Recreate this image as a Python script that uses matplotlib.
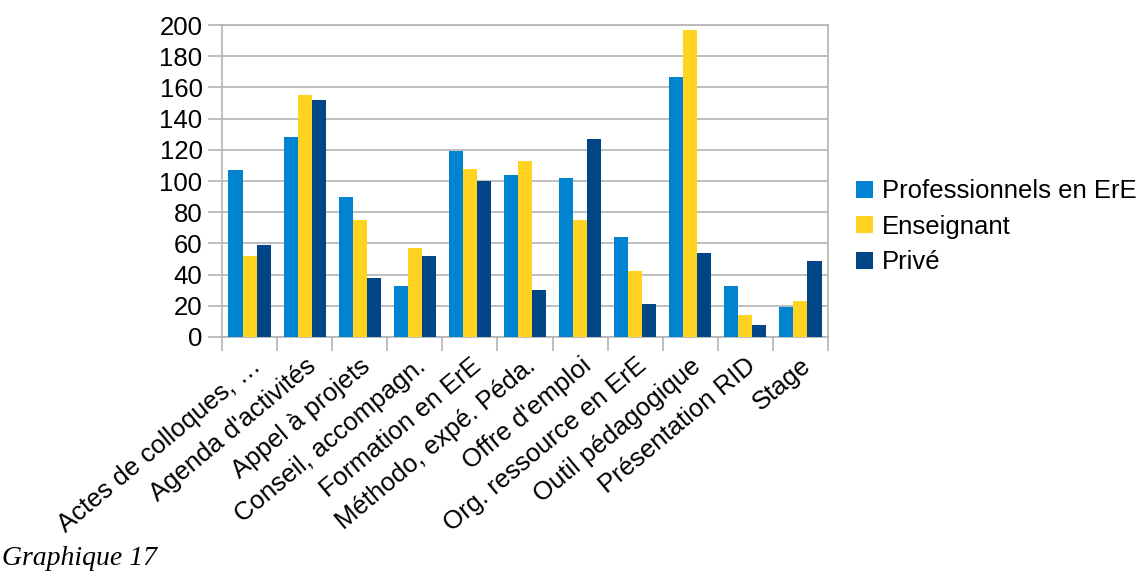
import matplotlib.pyplot as plt
import numpy as np

plt.rcParams['font.family'] = ['Liberation Sans', 'DejaVu Sans']

categories = ["Actes de colloques, …", "Agenda d'activités", "Appel à projets",
              "Conseil, accompagn.", "Formation en ErE", "Méthodo, expé. Péda.",
              "Offre d'emploi", "Org. ressource en ErE", "Outil pédagogique",
              "Présentation RID", "Stage"]
series_names = ["Professionnels en ErE", "Enseignant", "Privé"]
professionnels = [107, 128, 90, 33, 119, 104, 102, 64, 167, 33, 19]
enseignant = [52, 155, 75, 57, 108, 113, 75, 42, 197, 14, 23]
prive = [59, 152, 38, 52, 100, 30, 127, 21, 54, 8, 49]
colors = ['#0084d1', '#ffd320', '#004586']

fig = plt.figure(figsize=(11.46, 5.74), dpi=100)
ax = fig.add_axes([0.1937, 0.4129, 0.5288, 0.5435])

x = np.arange(len(categories)) + 0.5
w = 0.255
for k, (vals, name) in enumerate(zip([professionnels, enseignant, prive], series_names)):
    ax.bar(x + (k - 1) * w, vals, width=w, color=colors[k], label=name, zorder=3)

ax.set_xlim(0, len(categories))
ax.set_ylim(0, 200)
ax.set_yticks(np.arange(0, 201, 20))
ax.set_xticks(np.arange(0, len(categories) + 1), minor=False)
ax.set_xticklabels([])
ax.set_xticks(x, minor=True)
ax.set_xticklabels(categories, minor=True, rotation=40, ha='right',
                   rotation_mode='anchor', fontsize=18.5)
ax.tick_params(axis='x', which='minor', length=0, pad=12)
ax.tick_params(axis='x', which='major', length=10, color='#b3b3b3', width=1.2)
ax.tick_params(axis='y', length=10, color='#b3b3b3', width=1.2, labelsize=18.5, pad=4)
ax.grid(axis='y', color='#b3b3b3', linewidth=1.2, zorder=0)
for s in ax.spines.values():
    s.set_color('#b3b3b3')
    s.set_linewidth(1.2)

handles, labels = ax.get_legend_handles_labels()
fig.legend(handles, labels, loc='center left', bbox_to_anchor=(0.747, 0.605),
           frameon=False, fontsize=18.5, handlelength=0.65, handleheight=0.65,
           handletextpad=0.35, labelspacing=0.45, borderpad=0, borderaxespad=0)

fig.text(0.002, 0.027, "Graphique 17", family='Liberation Serif', style='italic',
         fontsize=20, va='center', ha='left')

fig.savefig('out.png', dpi=100)
